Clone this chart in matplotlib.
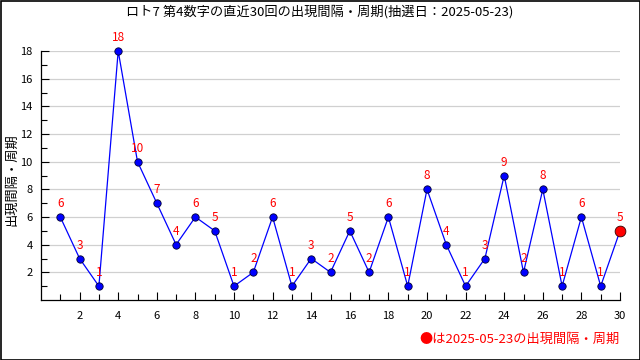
import matplotlib
matplotlib.use("Agg")
import matplotlib.pyplot as plt
from matplotlib.patches import Rectangle

plt.rcParams['font.family'] = ['Noto Sans CJK JP', 'DejaVu Sans']

draws = list(range(1, 31))
values = [6, 3, 1, 18, 10, 7, 4, 6, 5, 1, 2, 6, 1, 3, 2, 5, 2, 6, 1, 8, 4, 1, 3, 9, 2, 8, 1, 6, 1, 5]
xticks = list(range(2, 31, 2))
yticks = list(range(2, 19, 2))
title = "ロト7 第4数字の直近30回の出現間隔・周期(抽選日：2025-05-23)"
ylabel = "出現間隔・周期"
note = "●は2025-05-23の出現間隔・周期"

fig = plt.figure(figsize=(6.4, 3.6), dpi=100)
ax = fig.add_axes([41/640, 1-300/360, (620-41)/640, (300-51)/360])

ax.plot(draws, values, color='#0000ff', linewidth=0.9, zorder=2, clip_on=False)
ax.scatter(draws[:-1], values[:-1], s=28, color='#0000ff', edgecolor='#000033', linewidth=0.6, zorder=3, clip_on=False)
ax.scatter(draws[-1:], values[-1:], s=60, color='#ff0000', edgecolor='#330000', linewidth=0.6, zorder=4, clip_on=False)
for x, v in zip(draws, values):
    ax.annotate(str(v), (x, v), xytext=(0, 5), textcoords='offset points', ha='center', va='bottom',
                color='#ff0000', fontsize=8.5, zorder=5)

ax.set_xlim(0, 30)
ax.set_ylim(0, 18)
ax.set_xticks(xticks)
ax.set_xticks(range(1, 31), minor=True)
ax.set_yticks(yticks)
ax.set_yticks(range(1, 18, 2), minor=True)
ax.tick_params(axis='both', which='major', direction='in', length=6, width=0.8, labelsize=8, colors='black')
ax.tick_params(axis='both', which='minor', direction='in', length=4, width=0.8)
ax.tick_params(axis='x', pad=8)
ax.tick_params(axis='y', pad=6)
ax.grid(axis='y', which='major', color='#d0d0d0', linewidth=0.9, zorder=0)
for s in ['top', 'right']:
    ax.spines[s].set_visible(False)
for s in ['left', 'bottom']:
    ax.spines[s].set_linewidth(0.9)

fig.text(0.5, 1-12/360, title, ha='center', va='center', fontsize=9.5)
fig.text(12/640, 0.5, ylabel, rotation=90, ha='center', va='center', fontsize=9.5)
fig.text(620/640, 1-339/360, note, ha='right', va='center', fontsize=9.5, color='#ff0000')

fig.patches.append(Rectangle((0.5/640, 0.5/360), 1-1/640, 1-1/360, transform=fig.transFigure,
                             fill=False, edgecolor='black', linewidth=1.2))

fig.savefig('out.png', dpi=100)
